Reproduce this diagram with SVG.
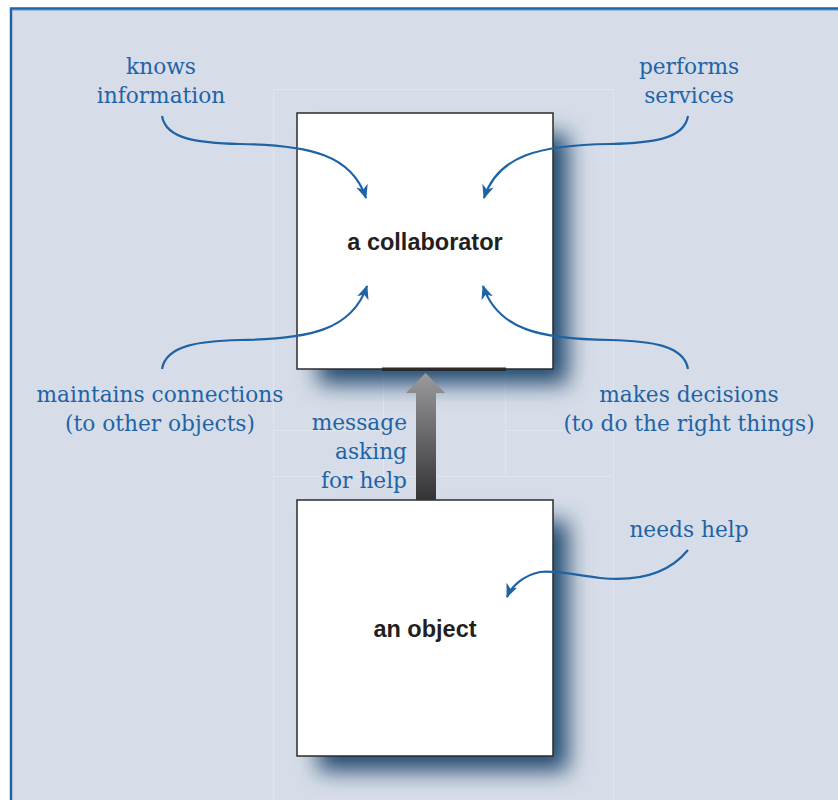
<svg xmlns="http://www.w3.org/2000/svg" width="838" height="800" viewBox="0 0 838 800">
<defs>
<style>
.lbl{font-family:"DejaVu Serif","Liberation Serif",serif;font-size:21.7px;fill:#1f63a7;}
.nm{font-family:"Liberation Sans",Arial,sans-serif;font-size:23.5px;font-weight:bold;fill:#231f20;text-anchor:middle;}
.box{fill:#ffffff;stroke:#2b2b2b;stroke-width:1.5;}
.con{fill:none;stroke:#1f63a7;stroke-width:2.2;marker-end:url(#ah);}
.faint{fill:none;stroke:#e0e6ee;stroke-width:1;}
</style>
<marker id="ah" viewBox="0 0 14 12" refX="13" refY="6" markerWidth="14" markerHeight="12" markerUnits="userSpaceOnUse" orient="auto">
<path d="M0,0 L14,6 L0,12 L4,6 Z" fill="#1f63a7"/>
</marker>
<filter id="sh" x="-30%" y="-30%" width="160%" height="160%">
<feGaussianBlur stdDeviation="11"/>
</filter>
<linearGradient id="ag" x1="0" y1="0" x2="0" y2="1">
<stop offset="0" stop-color="#9b9b9d"/>
<stop offset="1" stop-color="#333335"/>
</linearGradient>
</defs>
<rect x="0" y="0" width="838" height="800" fill="#ffffff"/>
<rect x="11" y="8.5" width="840" height="800" fill="#d7dde8" stroke="#1f63a7" stroke-width="2.5"/>
<line x1="12" y1="10.5" x2="838" y2="10.5" stroke="#9db7d6" stroke-width="1"/>
<g id="tiles">
<rect class="faint" x="273.5" y="89.5" width="340" height="387"/>
<rect class="faint" x="273.5" y="476.5" width="340" height="340"/>
<line class="faint" x1="383.5" y1="369" x2="383.5" y2="476"/>
<line class="faint" x1="505.5" y1="369" x2="505.5" y2="476"/>
<line class="faint" x1="273.5" y1="430.5" x2="383.5" y2="430.5"/>
<line class="faint" x1="505.5" y1="430.5" x2="613.5" y2="430.5"/>
</g>
<g id="collaborator">
<rect x="318" y="134" width="250" height="250" fill="#24496f" filter="url(#sh)"/>
<rect class="box" x="297" y="113" width="256" height="256"/>
<rect x="382" y="367.5" width="124" height="3.5" fill="#2b2b2b"/>
<text class="nm" x="425" y="250">a collaborator</text>
</g>
<g id="object">
<rect x="318" y="521" width="250" height="250" fill="#24496f" filter="url(#sh)"/>
<rect class="box" x="297" y="500" width="256" height="256"/>
<text class="nm" x="425" y="637">an object</text>
</g>
<g id="message">
<path d="M416,500 L416,393 L406,393 L425.5,373 L445,393 L436,393 L436,500 Z" fill="url(#ag)"/>
<text class="lbl" text-anchor="end" x="407" y="430">message</text>
<text class="lbl" text-anchor="end" x="407" y="459">asking</text>
<text class="lbl" text-anchor="end" x="407" y="488">for help</text>
</g>
<g id="labels">
<text class="lbl" text-anchor="middle" x="161" y="74">knows</text>
<text class="lbl" text-anchor="middle" x="161" y="103">information</text>
<text class="lbl" text-anchor="middle" x="689" y="74">performs</text>
<text class="lbl" text-anchor="middle" x="689" y="103">services</text>
<text class="lbl" text-anchor="middle" x="160" y="402">maintains connections</text>
<text class="lbl" text-anchor="middle" x="160" y="431">(to other objects)</text>
<text class="lbl" text-anchor="middle" x="689" y="402">makes decisions</text>
<text class="lbl" text-anchor="middle" x="689" y="431">(to do the right things)</text>
<text class="lbl" text-anchor="middle" x="689" y="537">needs help</text>
</g>
<g id="connectors">
<path class="con" d="M162,116 C166,140 200,143 240,144 C310,145 352,155 366,198"/>
<path class="con" d="M688,116 C684,140 650,143 610,144 C540,145 498,155 484,198"/>
<path class="con" d="M162,369 C166,345 200,341 240,340 C310,339 352,330 367,286"/>
<path class="con" d="M688,369 C684,345 650,341 610,340 C540,339 498,330 483,286"/>
<path class="con" d="M688,550 C670,572 640,582 600,578 C575,575 555,570 540,572 C525,575 512,585 507,597"/>
</g>
</svg>
